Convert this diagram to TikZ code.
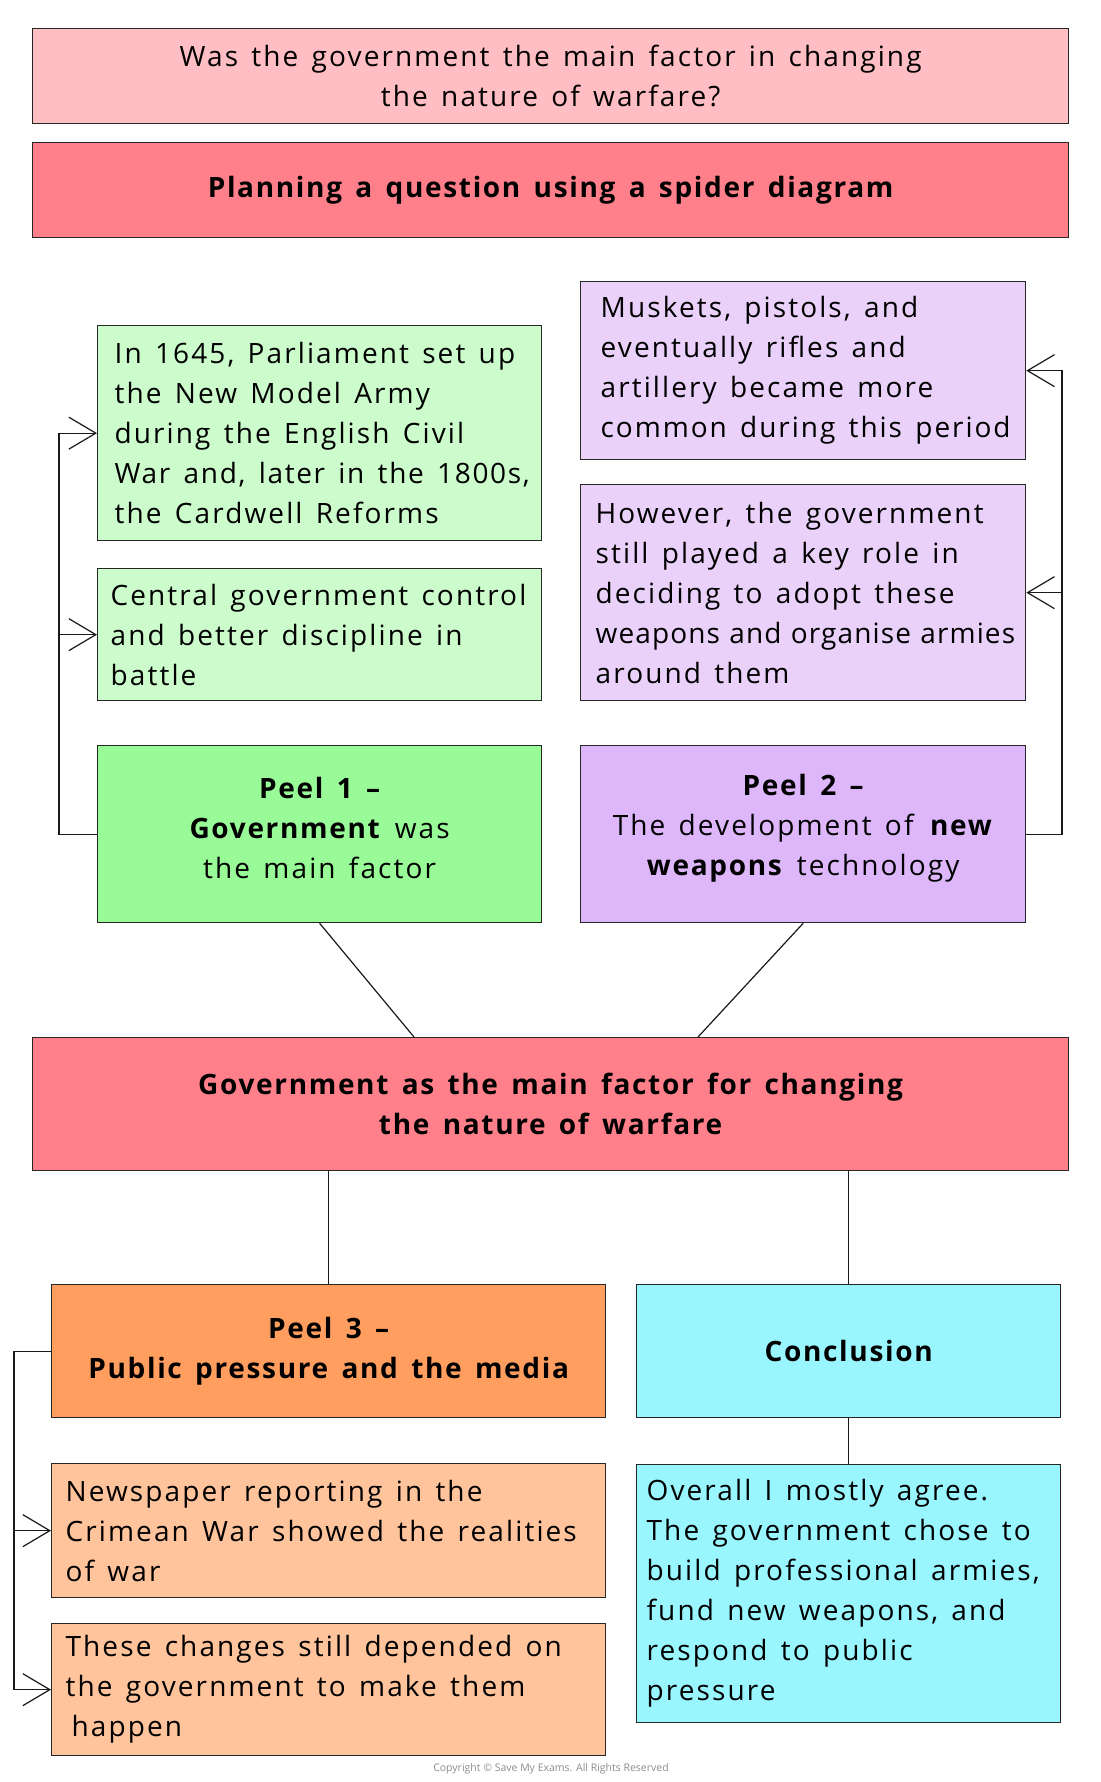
\documentclass[tikz,border=0pt]{standalone}
\usepackage{fontspec}
\setmainfont{Open Sans}[LetterSpace=7.5, BoldFeatures={LetterSpace=6}]
\newfontfamily\plainfont{Open Sans}
\usetikzlibrary{arrows.meta}
\definecolor{cTitle}{RGB}{255,190,196}
\definecolor{cRed}{RGB}{255,128,138}
\definecolor{cGreenL}{RGB}{204,252,204}
\definecolor{cGreen}{RGB}{152,251,152}
\definecolor{cPurpL}{RGB}{234,209,250}
\definecolor{cPurp}{RGB}{222,183,250}
\definecolor{cOrange}{RGB}{255,158,94}
\definecolor{cOrangeL}{RGB}{255,196,156}
\definecolor{cCyan}{RGB}{153,246,255}
\newcommand{\ml}[1]{\mbox{#1}}
\newcommand{\bodyfont}{\fontsize{28}{40}\selectfont}
\newcommand{\widespace}{\spaceskip=13.3pt\relax\xspaceskip=\spaceskip}
\newcommand{\tight}[1]{\mbox{\addfontfeature{LetterSpace=4}\spaceskip=.3333em\relax #1}}
\newcommand{\lsp}[2]{\mbox{\addfontfeature{LetterSpace=#1}#2}}
\tikzset{
  box/.style={draw=black!85, line width=1.3pt, anchor=north west, inner ysep=0pt,
    font=\bodyfont, execute at begin node=\widespace},
  label/.style={font=\bodyfont, execute at begin node=\widespace, inner sep=0pt, yshift=6pt,
    text width=420pt, align=center},
  conn/.style={line width=1.2pt, draw=black!90},
  arr/.style={conn, -{Straight Barb[length=27pt,width=32pt]}},
}
\begin{document}
\begin{tikzpicture}[x=1pt,y=-1pt]
\useasboundingbox (0,0) rectangle (1100,1782);

\node[box, fill=cTitle, minimum width=1036pt, minimum height=95pt, text width=1000pt, align=center] (title) at (32,28)
  {Was the government the main factor in changing\\the nature of warfare?};
\node[box, fill=cRed, minimum width=1036pt, minimum height=95pt, text width=1000pt, align=center] (plan) at (32,142)
  {\bfseries Planning a question using a spider diagram};

\node[box, fill=cGreenL, minimum width=444pt, minimum height=215pt, inner xsep=17pt, text width=410pt, align=left] (g1) at (97,325)
  {\ml{In 1645, Parliament set up}\\\ml{the New Model Army}\\\ml{during the English Civil}\\\lsp{6}{War and, later in the 1800s,}\\\ml{the Cardwell Reforms}};
\node[box, fill=cGreenL, minimum width=444pt, minimum height=132pt, inner xsep=13pt, text width=418pt, align=left] (g2) at (97,568)
  {\ml{Central government control}\\\ml{and better discipline in}\\\ml{battle}};
\node[box, fill=cGreen, minimum width=444pt, minimum height=177pt] (p1) at (97,745) {};
\node[label] (p1t) at (p1.center)
  {\textbf{Peel 1 –}\\\textbf{Government} was\\the main factor};

\node[box, fill=cPurpL, minimum width=445pt, minimum height=178pt, inner xsep=20pt, text width=405pt, align=left] (u1) at (580,281)
  {\ml{Muskets, pistols, and}\\\ml{eventually rifles and}\\\ml{artillery became more}\\\lsp{7}{common during this period}};
\node[box, fill=cPurpL, minimum width=445pt, minimum height=216pt, inner xsep=15pt, text width=415pt, align=left] (u2) at (580,484)
  {\ml{However, the government}\\\ml{still played a key role in}\\\ml{deciding to adopt these}\\\tight{weapons and organise armies}\\\ml{around them}};
\node[box, fill=cPurp, minimum width=445pt, minimum height=177pt] (p2) at (580,745) {};
\node[label] (p2t) at (p2.center)
  {\textbf{Peel 2 –}\\\ml{The development of \textbf{new}}\\\textbf{weapons} technology};

\node[box, fill=cRed, minimum width=1036pt, minimum height=133pt, text width=1000pt, align=center] (main) at (32,1037)
  {\bfseries Government as the main factor for changing\\the nature of warfare};

\node[box, fill=cOrange, minimum width=554pt, minimum height=133pt, inner xsep=10pt, text width=534pt, align=center] (p3) at (51,1284)
  {\bfseries Peel 3 –\\\ml{Public pressure and the media}};
\node[box, fill=cCyan, minimum width=424pt, minimum height=133pt, inner xsep=10pt, text width=404pt, align=center] (conc) at (636,1284)
  {\bfseries Conclusion};

\node[box, fill=cOrangeL, minimum width=554pt, minimum height=134pt, inner xsep=14pt, text width=526pt, align=left] (o1) at (51,1463)
  {\ml{Newspaper reporting in the}\\\ml{Crimean War showed the realities}\\\ml{of war}};
\node[box, fill=cOrangeL, minimum width=554pt, minimum height=132pt, inner xsep=14pt, text width=526pt, align=left] (o2) at (51,1623)
  {\ml{These changes still depended on}\\\ml{the government to make them}\\\hspace*{6pt}happen};
\node[box, fill=cCyan, minimum width=424pt, minimum height=258pt, inner xsep=10pt, text width=404pt, align=left] (ct) at (636,1464)
  {\ml{Overall I mostly agree.}\\\ml{The government chose to}\\\ml{build professional armies,}\\\ml{fund new weapons, and}\\\ml{respond to public}\\\ml{pressure}};

\node[font=\plainfont\fontsize{10.5}{12}\selectfont, text=black!45] (copy) at (551,1769)
  {Copyright \textcopyright{} Save My Exams. All Rights Reserved};

% connectors
\coordinate (lc) at (59,0);
\coordinate (rc) at (1062,0);
\coordinate (bc) at (14,0);
\coordinate (m1) at (414,1037);
\coordinate (m2) at (698,1037);

\draw[arr] (p1.west) -- (p1.west -| lc) |- (g1.west);
\draw[arr] (p1.west -| lc) |- (g2.west);
\draw[arr] (p2.east) -- (p2.east -| rc) |- (u1.east);
\draw[arr] (p2.east -| rc) |- (u2.east);
\draw[arr] (p3.west) -- (p3.west -| bc) |- (o2.west);
\draw[arr] (p3.west -| bc) |- (o1.west);

\draw[conn] (p1.south) -- (m1);
\draw[conn] (p2.south) -- (m2);
\draw[conn] (p3.north) -- (p3.north |- main.south);
\draw[conn] (conc.north) -- (conc.north |- main.south);
\draw[conn] (conc.south) -- (ct.north);
\end{tikzpicture}
\end{document}
